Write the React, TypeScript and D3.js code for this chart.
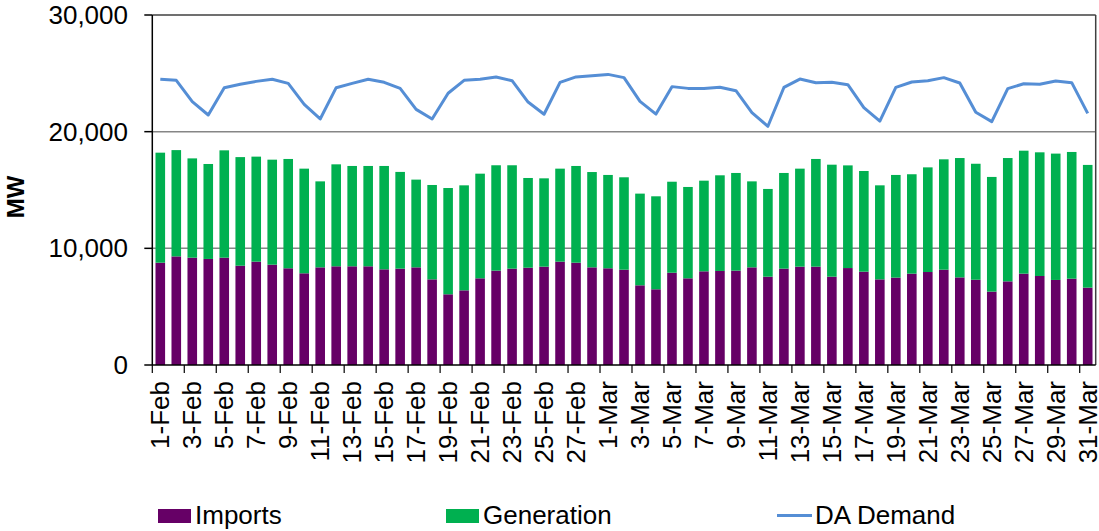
import React from "react";
import * as d3 from "d3";

const dates = [
  "1-Feb","2-Feb","3-Feb","4-Feb","5-Feb","6-Feb","7-Feb","8-Feb","9-Feb","10-Feb",
  "11-Feb","12-Feb","13-Feb","14-Feb","15-Feb","16-Feb","17-Feb","18-Feb","19-Feb","20-Feb",
  "21-Feb","22-Feb","23-Feb","24-Feb","25-Feb","26-Feb","27-Feb","28-Feb",
  "1-Mar","2-Mar","3-Mar","4-Mar","5-Mar","6-Mar","7-Mar","8-Mar","9-Mar","10-Mar",
  "11-Mar","12-Mar","13-Mar","14-Mar","15-Mar","16-Mar","17-Mar","18-Mar","19-Mar","20-Mar",
  "21-Mar","22-Mar","23-Mar","24-Mar","25-Mar","26-Mar","27-Mar","28-Mar","29-Mar","30-Mar","31-Mar",
];

const imports = [
  8770,9310,9200,9090,9200,8510,8860,8600,8290,7860,
  8370,8460,8460,8460,8200,8260,8370,7340,6060,6400,
  7430,8090,8260,8340,8430,8860,8770,8370,8290,8170,
  6830,6490,7910,7430,8030,8060,8090,8370,7570,8260,
  8430,8430,7570,8310,8000,7340,7490,7830,7970,8170,
  7510,7310,6290,7170,7830,7630,7290,7400,6630,
];

const generation = [
  9430,9110,8510,8140,9200,9310,9000,9000,9370,8970,
  7370,8740,8600,8600,8860,8290,7520,8090,9110,9000,
  8970,9030,8860,7690,7570,7970,8290,8170,8000,7920,
  7860,7970,7800,7830,7770,8200,8370,7370,7520,8200,
  8400,9230,9600,8800,8630,8060,8800,8520,8970,9460,
  10230,9940,9830,10570,10540,10600,10830,10860,10520,
];

const demand = [
  24490,24400,22570,21430,23770,24060,24310,24490,24140,22340,
  21090,23770,24140,24490,24230,23710,21910,21090,23290,24400,
  24490,24690,24370,22540,21490,24230,24690,24800,24910,24630,
  22600,21510,23860,23710,23690,23800,23510,21630,20460,23790,
  24510,24200,24230,24030,22060,20910,23800,24260,24370,24630,
  24170,21660,20860,23690,24110,24060,24340,24200,21570,
];

const yTicks = [0, 10000, 20000, 30000];
const seriesNames = ["Imports", "Generation", "DA Demand"];

const W = 1099;
const H = 531;
const left = 152.3;
const right = 1095.7;
const top = 15;
const bottom = 365;

const colors = { imports: "#660066", generation: "#00B050", demand: "#558ED5" };
const font = "'Liberation Sans', Arial, sans-serif";

export default function App() {
  const x = d3.scaleBand<string>().domain(dates).range([left, right]).paddingInner(0.4).paddingOuter(0.2);
  const step = (right - left) / dates.length;
  const y = d3.scaleLinear().domain([0, 30000]).range([bottom, top]);
  const fmt = d3.format(",");

  const rows = dates.map((d, i) => ({ date: d, imports: imports[i], generation: generation[i] }));
  const stack = d3.stack<any>().keys(["imports", "generation"])(rows);

  const line = d3
    .line<number>()
    .x((_, i) => (x(dates[i]) as number) + x.bandwidth() / 2)
    .y((v) => y(v));

  const tickIdx = d3.range(0, dates.length + 1, 2);

  return (
    <svg width={W} height={H} style={{ position: "absolute", left: 0, top: 0, background: "#fff" }} fontFamily={font}>
      {/* gridlines */}
      {yTicks.filter((t) => t > 0 && t < 30000).map((t) => (
        <line key={t} x1={left} x2={right} y1={y(t)} y2={y(t)} stroke="#868686" strokeWidth={1.5} />
      ))}
      {/* plot border top/right */}
      <line x1={left} x2={right} y1={y(30000)} y2={y(30000)} stroke="#404040" strokeWidth={1.5} />
      <line x1={right} x2={right} y1={top} y2={bottom} stroke="#404040" strokeWidth={1.5} />

      {/* bars */}
      {stack.map((s) => (
        <g key={s.key} fill={s.key === "imports" ? colors.imports : colors.generation}>
          {s.map((d, i) => (
            <rect
              key={i}
              x={x(dates[i])}
              width={x.bandwidth()}
              y={y(d[1])}
              height={y(d[0]) - y(d[1])}
            />
          ))}
        </g>
      ))}

      {/* demand line */}
      <path d={line(demand) || ""} fill="none" stroke={colors.demand} strokeWidth={3} strokeLinejoin="round" />

      {/* y axis */}
      <line x1={left} x2={left} y1={top} y2={bottom} stroke="#000" strokeWidth={1.5} />
      {yTicks.map((t) => (
        <g key={t}>
          <line x1={left - 8} x2={left} y1={y(t)} y2={y(t)} stroke="#000" strokeWidth={1.5} />
          <text x={128} y={y(t)} dy="0.35em" textAnchor="end" fontSize={26} fill="#000">
            {fmt(t)}
          </text>
        </g>
      ))}
      <text
        transform={`translate(24,${(top + bottom) / 2 + 7}) rotate(-90)`}
        textAnchor="middle"
        fontSize={24}
        fontWeight="bold"
        fill="#000"
      >
        MW
      </text>

      {/* x axis */}
      <line x1={left} x2={right} y1={bottom} y2={bottom} stroke="#000" strokeWidth={1.5} />
      {tickIdx.map((k) => (
        <line key={k} x1={left + k * step} x2={left + k * step} y1={bottom} y2={bottom + 8} stroke="#000" strokeWidth={1.2} />
      ))}
      {dates.map((d, i) =>
        i % 2 === 0 ? (
          <text
            key={d}
            transform={`translate(${(x(d) as number) + x.bandwidth() / 2},${bottom + 16}) rotate(-90)`}
            dy="0.35em"
            textAnchor="end"
            fontSize={26}
            fill="#000"
          >
            {d}
          </text>
        ) : null
      )}

      {/* legend */}
      <rect x={158} y={509} width={33} height={14} fill={colors.imports} />
      <text x={195} y={524} fontSize={26} fill="#000">{seriesNames[0]}</text>
      <rect x={446} y={509} width={33} height={14} fill={colors.generation} />
      <text x={483} y={524} fontSize={26} fill="#000">{seriesNames[1]}</text>
      <line x1={777} x2={812} y1={515.5} y2={515.5} stroke={colors.demand} strokeWidth={3} />
      <text x={815} y={524} fontSize={26} fill="#000">{seriesNames[2]}</text>
    </svg>
  );
}
